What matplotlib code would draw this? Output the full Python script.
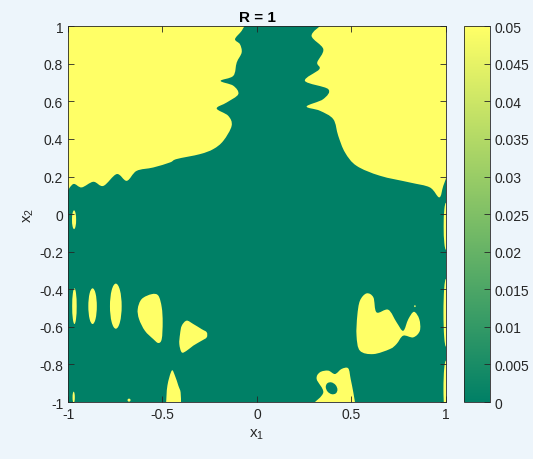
import numpy as np
import matplotlib
matplotlib.use('Agg')
import matplotlib.pyplot as plt
from matplotlib.patches import PathPatch, Ellipse
from matplotlib.path import Path
from matplotlib import cm, colors

plt.rcParams['font.family'] = ['Liberation Sans', 'DejaVu Sans']
plt.rcParams['mathtext.fontset'] = 'custom'
plt.rcParams['mathtext.rm'] = 'Liberation Sans'
plt.rcParams['mathtext.it'] = 'Liberation Sans'

# contour levels / colorbar
cbar_ticks = [0, 0.005, 0.01, 0.015, 0.02, 0.025, 0.03, 0.035, 0.04, 0.045, 0.05]
cbar_labels = ['0', '0.005', '0.01', '0.015', '0.02', '0.025', '0.03', '0.035', '0.04', '0.045', '0.05']
x_ticks = [-1, -0.5, 0, 0.5, 1]
x_labels = ['-1', '-0.5', '0', '0.5', '1']
y_ticks = [-1, -0.8, -0.6, -0.4, -0.2, 0, 0.2, 0.4, 0.6, 0.8, 1]
y_labels = ['-1', '-0.8', '-0.6', '-0.4', '-0.2', '0', '0.2', '0.4', '0.6', '0.8', '1']

# yellow (>= 0.05) regions, (x1, x2)
# open boundaries that meet the frame, closed by the corner points
top_left_x = [-1.01, -0.972, -0.928, -0.866, -0.813, -0.742, -0.689, -0.637, -0.549, -0.460,
              -0.425, -0.302, -0.231, -0.178, -0.134, -0.152, -0.213, -0.160, -0.099, -0.125,
              -0.192, -0.125, -0.107, -0.081, -0.090, -0.116, -0.081, -0.062]
top_left_y = [0.112, 0.160, 0.142, 0.172, 0.150, 0.213, 0.177, 0.230, 0.248, 0.275,
              0.293, 0.319, 0.346, 0.390, 0.470, 0.523, 0.562, 0.594, 0.638, 0.683,
              0.709, 0.736, 0.807, 0.860, 0.904, 0.931, 0.975, 1.01]
top_left_corner = [(-1.01, 1.01)]

top_right_x = [0.345, 0.289, 0.351, 0.319, 0.330, 0.254, 0.377, 0.351, 0.263, 0.333, 0.404,
               0.430, 0.466, 0.527, 0.651, 0.810, 0.915, 0.965, 0.986, 1.01]
top_right_y = [1.01, 0.949, 0.878, 0.807, 0.771, 0.709, 0.665, 0.612, 0.573, 0.550, 0.505,
               0.417, 0.328, 0.257, 0.204, 0.168, 0.142, 0.089, 0.150, 0.215]
top_right_corner = [(1.01, 1.01)]

blob_f_x = [-0.481, -0.474, -0.451, -0.434, -0.416, -0.404, -0.402]
blob_f_y = [-1.01, -0.913, -0.833, -0.860, -0.913, -0.949, -1.01]

blob_h_x = [0.296, 0.351, 0.316, 0.333, 0.377, 0.413, 0.448, 0.483, 0.496, 0.510, 0.520]
blob_h_y = [-1.01, -0.949, -0.878, -0.842, -0.833, -0.851, -0.824, -0.821, -0.878, -0.949, -1.01]

# closed blobs
blob_d_x = [-0.610, -0.557, -0.522, -0.504, -0.499, -0.504, -0.522, -0.549, -0.593, -0.624, -0.631]
blob_d_y = [-0.452, -0.426, -0.434, -0.496, -0.576, -0.665, -0.686, -0.665, -0.621, -0.559, -0.505]

blob_e_x = [-0.398, -0.372, -0.337, -0.293, -0.266, -0.266, -0.293, -0.337, -0.372, -0.398, -0.411, -0.407]
blob_e_y = [-0.594, -0.567, -0.585, -0.612, -0.629, -0.656, -0.674, -0.700, -0.727, -0.736, -0.691, -0.638]

blob_g_x = [0.545, 0.580, 0.616, 0.633, 0.695, 0.739, 0.774, 0.801, 0.831, 0.859, 0.862,
            0.827, 0.774, 0.739, 0.704, 0.616, 0.545, 0.527, 0.531]
blob_g_y = [-0.461, -0.422, -0.443, -0.523, -0.509, -0.576, -0.621, -0.559, -0.520, -0.559, -0.621,
            -0.656, -0.647, -0.691, -0.718, -0.745, -0.727, -0.647, -0.541]

# small elliptic spots: centre x, centre y, width, height
spot_x = [-0.966, -0.870, -0.747, -0.968, -0.970, -0.677, 0.836, 1, 1, 1]
spot_y = [-0.49, -0.49, -0.49, -0.03, -0.975, -0.99, -0.49, -0.065, -0.525, -0.93]
spot_w = [0.024, 0.045, 0.062, 0.022, 0.012, 0.016, 0.008, 0.024, 0.026, 0.026]
spot_h = [0.19, 0.19, 0.24, 0.10, 0.06, 0.016, 0.01, 0.25, 0.36, 0.30]

# hole inside blob H
hole_x, hole_y, hole_w, hole_h = 0.395, -0.927, 0.055, 0.07


def smooth_path(xs, ys, closed=True, corners=()):
    # cubic bezier through the read points (catmull-rom tangents)
    p = np.column_stack([xs, ys]).astype(float)
    n = len(p)
    verts = [p[0]]
    codes = [Path.MOVETO]
    nseg = n if closed else n - 1
    for i in range(nseg):
        a, b = p[i], p[(i + 1) % n]
        if closed:
            pa, pb = p[(i - 1) % n], p[(i + 2) % n]
        else:
            pa = p[i - 1] if i > 0 else a
            pb = p[i + 2] if i + 2 < n else b
        verts += [a + (b - pa) / 6, b - (pb - a) / 6, b]
        codes += [Path.CURVE4] * 3
    for c in corners:
        verts.append(c)
        codes.append(Path.LINETO)
    verts.append(p[0])
    codes.append(Path.CLOSEPOLY)
    return Path(verts, codes)


cmap = plt.get_cmap('summer')
green = cmap(0.0)
yellow = cmap(1.0)
bg = '#EDF5FB'
ink = '#262626'

fig = plt.figure(figsize=(5.33, 4.6), dpi=100, facecolor=bg)
ax = fig.add_axes([0.1276, 0.1239, 0.709, 0.817])
ax.set_facecolor(green)

paths = [smooth_path(top_left_x, top_left_y, False, top_left_corner),
         smooth_path(top_right_x, top_right_y, False, top_right_corner),
         smooth_path(blob_f_x, blob_f_y, False),
         smooth_path(blob_h_x, blob_h_y, False),
         smooth_path(blob_d_x, blob_d_y),
         smooth_path(blob_e_x, blob_e_y),
         smooth_path(blob_g_x, blob_g_y)]
for pth in paths:
    ax.add_patch(PathPatch(pth, fc=yellow, ec='none'))
for cx, cy, w, h in zip(spot_x, spot_y, spot_w, spot_h):
    ax.add_patch(Ellipse((cx, cy), w, h, fc=yellow, ec='none'))
ax.add_patch(Ellipse((hole_x, hole_y), hole_w, hole_h, angle=40, fc=green, ec='none'))

ax.set_xlim(-1, 1)
ax.set_ylim(-1, 1)
ax.set_xticks(x_ticks)
ax.set_xticklabels(x_labels)
ax.set_yticks(y_ticks)
ax.set_yticklabels(y_labels)
ax.tick_params(direction='in', length=4, width=0.6, colors=ink, labelsize=10,
               top=True, right=True)
for s in ax.spines.values():
    s.set_color(ink)
    s.set_linewidth(0.6)
ax.set_title('R = 1', fontsize=11, fontweight='bold', color='black', pad=4)
ax.set_xlabel(r'$\mathregular{x_1}$', fontsize=11, color=ink, labelpad=4)
ax.set_ylabel(r'$\mathregular{x_2}$', fontsize=11, color=ink, labelpad=2)

cax = fig.add_axes([0.8705, 0.1239, 0.049, 0.817])
sm = cm.ScalarMappable(norm=colors.Normalize(0, 0.05), cmap=cmap)
cb = fig.colorbar(sm, cax=cax, ticks=cbar_ticks)
cb.ax.set_yticklabels(cbar_labels)
cb.ax.tick_params(direction='in', length=4, width=0.6, colors=ink, labelsize=10)
cb.outline.set_edgecolor(ink)
cb.outline.set_linewidth(0.6)

fig.savefig('out.png', dpi=100, facecolor=bg)
